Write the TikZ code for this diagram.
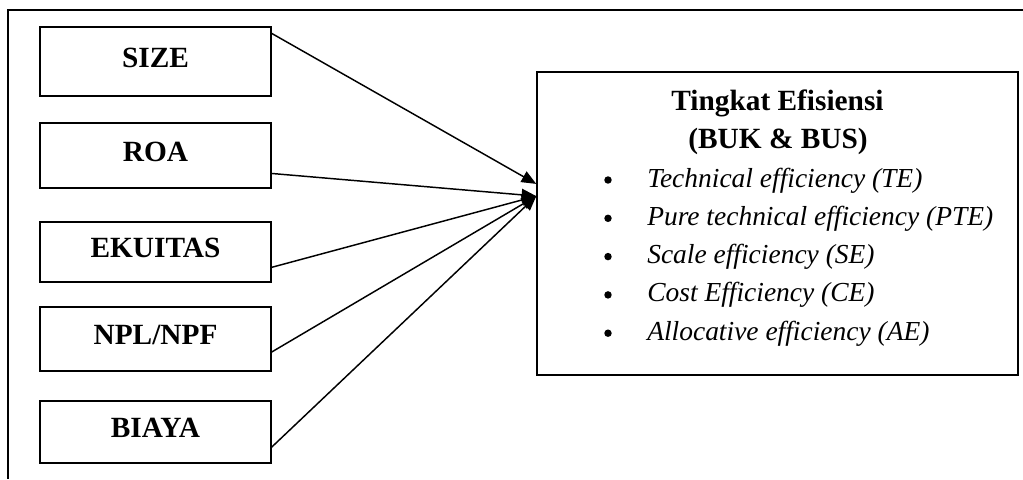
\documentclass[tikz,border=0pt]{standalone}
\usepackage{fontspec}
\setmainfont{Liberation Serif}
\usetikzlibrary{arrows.meta}
\usetikzlibrary{calc}

\tikzset{
  varbox/.style={draw, line width=1.1pt, minimum width=173pt, inner sep=0pt,
    font=\fontsize{22}{26}\selectfont\bfseries, text height=15pt, text depth=6.5pt},
  headline/.style={anchor=base, inner sep=0pt, font=\fontsize{22}{26}\selectfont\bfseries},
  item/.style={anchor=base west, inner sep=0pt, font=\fontsize{20.6}{24}\selectfont\itshape},
  dot/.style={circle, fill=black, inner sep=0pt, minimum size=5.6pt},
  link/.style={line width=1.1pt, -{Triangle[length=11pt,width=9pt]}},
}

\begin{document}
\begin{tikzpicture}[x=0.75pt, y=-0.75pt]
  \useasboundingbox (0,0) rectangle (1023,479);
  % frame: top and left only
  \draw [line width=1pt] (1023,10) -- (8,10) -- (8,479);

  % the five variables
  \node [varbox, minimum height=51.75pt] (size) at (155.5,61.5) {SIZE};
  \node [varbox, minimum height=48.75pt] (roa) at (155.5,155.5) {ROA};
  \node [varbox, minimum height=45pt] (ekuitas) at (155.5,252) {EKUITAS};
  \node [varbox, minimum height=48pt] (npl) at (155.5,339) {NPL/NPF};
  \node [varbox, minimum height=46.5pt] (biaya) at (155.5,432) {BIAYA};

  % efficiency box
  \node [draw, line width=1.1pt, minimum width=360.75pt, minimum height=227.25pt, inner sep=0pt] (eff) at (777.5,223.5) {};
  \node [headline] (ttl) at (777.5,110) {Tingkat Efisiensi};
  \node [headline] (sub) at (778,148) {(BUK \& BUS)};
  \foreach \txt [count=\k from 0] in {Technical efficiency (TE), Pure technical efficiency (PTE),
      Scale efficiency (SE), Cost Efficiency (CE), Allocative efficiency (AE)} {
    \node [dot] (dot\k) at (608,{180+38.3*\k}) {};
    \node [item] (it\k) at (647,{187+38.3*\k}) {\txt};
  }

  % arrows
  \coordinate (hitA) at ($(eff.north west)!0.37!(eff.south west)$);
  \coordinate (hitB) at ($(eff.north west)!0.41!(eff.south west)$);
  \draw [link] ($(size.north east)!0.1!(size.south east)$) -- (hitA);
  \foreach \n/\f in {roa/0.77, ekuitas/0.75, npl/0.7, biaya/0.74}
    \draw [link] ($(\n.north east)!\f!(\n.south east)$) -- (hitB);
\end{tikzpicture}
\end{document}
